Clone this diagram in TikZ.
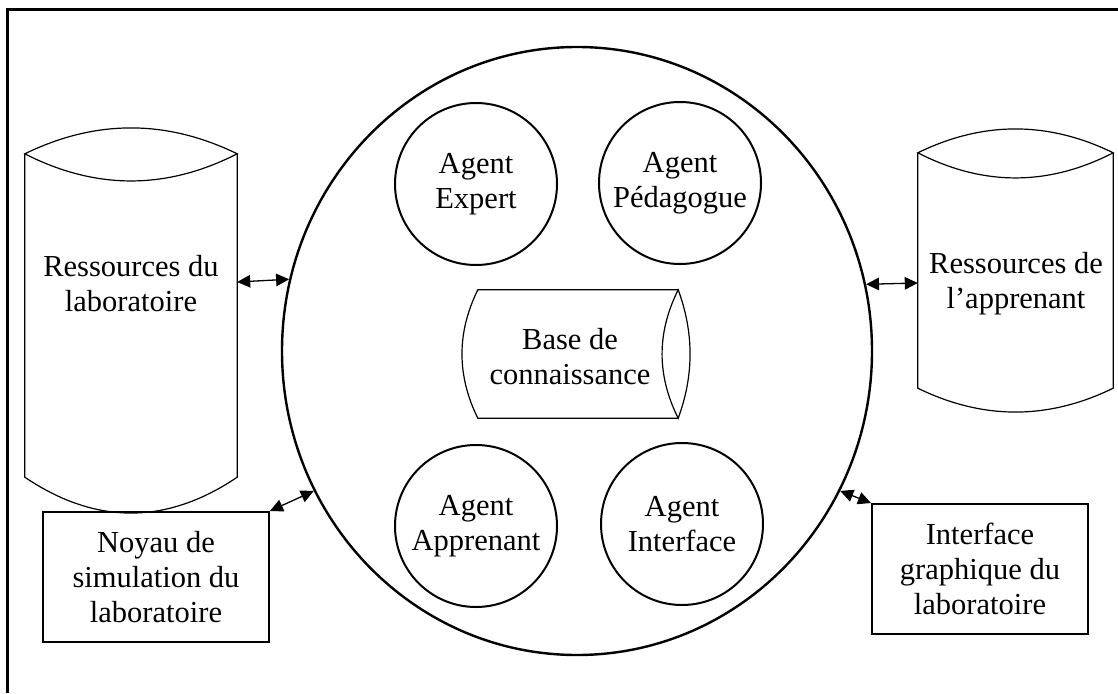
\documentclass[tikz,border=0pt]{standalone}
\usepackage{fontspec}
\setmainfont{Liberation Serif}
\usetikzlibrary{arrows.meta,shapes.geometric}

\tikzset{
  lbl/.style={align=center, inner sep=0pt, font=\fontsize{30.5}{35}\selectfont},
  agent/.style={lbl, circle, draw, line width=2pt, minimum size=162pt},
  core/.style={ellipse, draw, line width=2.4pt, inner sep=0pt,
               minimum width=590pt, minimum height=608pt},
  module/.style={lbl, draw, line width=2pt, rectangle},
  body/.style={rectangle, draw=none, inner sep=0pt},
  cylline/.style={line width=1.2pt, line join=miter},
  link/.style={line width=1.3pt, {Triangle[length=13pt,width=12.5pt]}-{Triangle[length=13pt,width=12.5pt]}},
}

\begin{document}
\begin{tikzpicture}[x=1pt, y=1pt]
  \useasboundingbox (0,0) rectangle (1118,-693);

  % outer frame
  \draw[line width=3pt] (7.5,-693) -- (7.5,-10) -- (1118,-10);

  % the multi-agent core
  \node[core] (core) at (577,-351) {};
  \node[agent] (expert) at (476,-184) {Agent\\Expert};
  \node[agent] (pedago) at (680,-183) {Agent\\Pédagogue};
  \node[agent] (appren) at (476,-526) {Agent\\Apprenant};
  \node[agent] (interf) at (682,-524) {Agent\\Interface};

  % knowledge base (horizontal cylinder, open end on the right)
  \node[body, minimum width=200pt, minimum height=128pt] (kbody) at (578,-354) {};
  \draw[cylline] (kbody.north east) -- (kbody.north west)
    .. controls (456.7,-332.7) and (456.7,-375.3) .. (kbody.south west)
    -- (kbody.south east);
  \draw[cylline] (kbody.north east)
    .. controls (656.7,-332.7) and (656.7,-375.3) .. (kbody.south east)
    .. controls (694,-375.3) and (694,-332.7) .. cycle;
  \node[lbl] (kb) at (570,-357) {Base de\\connaissance};

  % laboratory resources (vertical cylinder)
  \node[body, minimum width=212pt, minimum height=323pt] (lcyl) at (131,-315.5) {};
  \draw[cylline] (lcyl.north west) -- (lcyl.south west)
    .. controls (95.7,-525) and (166.3,-525) .. (lcyl.south east)
    -- (lcyl.north east);
  \draw[cylline] (lcyl.north west)
    .. controls (95.7,-119.3) and (166.3,-119.3) .. (lcyl.north east)
    .. controls (166.3,-190) and (95.7,-190) .. cycle;
  \node[lbl] (lres) at (131,-284) {Ressources du\\laboratoire};

  % learner resources (vertical cylinder)
  \node[body, minimum width=195pt, minimum height=235pt] (rcyl) at (1015.5,-270.5) {};
  \draw[cylline] (rcyl.north west) -- (rcyl.south west)
    .. controls (983,-420) and (1048,-420) .. (rcyl.south east)
    -- (rcyl.north east);
  \draw[cylline] (rcyl.north west)
    .. controls (983,-121) and (1048,-121) .. (rcyl.north east)
    .. controls (1048,-186.3) and (983,-186.3) .. cycle;
  \node[lbl] (rres) at (1016,-284) {Ressources de\\l’apprenant};

  % simulation kernel and graphical interface
  \node[module, minimum width=226pt, minimum height=130pt] (noyau) at (156,-577)
    {Noyau de\\simulation du\\laboratoire};
  \node[module, minimum width=216pt, minimum height=130pt] (gui) at (980,-569)
    {Interface\\graphique du\\laboratoire};

  % exchanges with the core
  \draw[link] (lcyl.east |- 0,-282) -- (core.166.5);
  \draw[link] (core.13.4) -- (rcyl.west |- 0,-283);
  \draw[link] (noyau.north east) -- (core.208.3);
  \draw[link] (core.332) -- (gui.north west);
\end{tikzpicture}
\end{document}
